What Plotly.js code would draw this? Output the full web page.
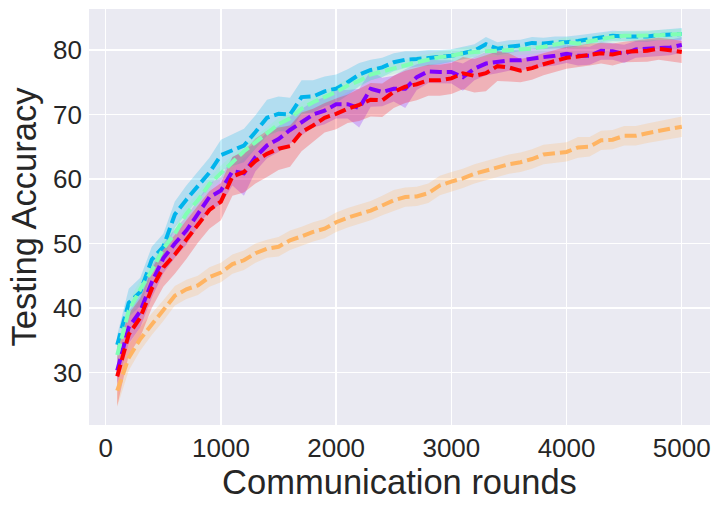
<!DOCTYPE html>
<html>
<head>
<meta charset="utf-8">
<script src="https://cdn.plot.ly/plotly-3.0.1.min.js"></script>
<style>
  html, body { margin: 0; padding: 0; background: #ffffff; }
  #chart { width: 722px; height: 509px; }
</style>
</head>
<body>
<div id="chart"></div>
<script>
// Communication rounds (x axis)
const rounds = [
  100, 200, 300, 400, 500, 600, 700, 800, 900, 1000,
  1100, 1200, 1300, 1400, 1500, 1600, 1700, 1800, 1900, 2000,
  2100, 2200, 2300, 2400, 2500, 2600, 2700, 2800, 2900, 3000,
  3100, 3200, 3300, 3400, 3500, 3600, 3700, 3800, 3900, 4000,
  4100, 4200, 4300, 4400, 4500, 4600, 4700, 4800, 4900, 5000
];

// Mean testing accuracy per run (colours follow the rainbow map)
const accPurple = [
  30.3, 37.0, 39.5, 44.0, 47.7, 50.0, 52.0, 54.7, 57.2, 58.2,
  61.2, 60.9, 63.4, 65.2, 66.2, 67.6, 68.8, 70.0, 70.6, 71.6,
  71.6, 71.0, 74.0, 73.5, 74.0, 74.0, 75.8, 76.7, 76.6, 76.6,
  75.8, 77.1, 77.9, 78.1, 78.4, 78.4, 78.7, 78.9, 79.1, 79.4,
  79.1, 79.1, 79.9, 79.8, 79.4, 80.1, 80.2, 80.3, 80.4, 80.8
];
const accCyan = [
  34.3, 40.8, 42.5, 47.5, 49.5, 54.5, 56.8, 59.0, 61.0, 63.7,
  64.5, 65.2, 67.3, 69.5, 70.1, 70.0, 72.7, 72.8, 73.6, 74.0,
  75.0, 76.2, 76.9, 77.3, 78.1, 78.5, 78.6, 78.8, 78.9, 79.1,
  79.5, 79.9, 80.9, 80.2, 80.5, 80.7, 81.1, 81.0, 81.2, 81.2,
  81.4, 81.7, 82.0, 82.2, 82.1, 82.1, 82.1, 82.3, 82.4, 82.5
];
const accGreen = [
  32.7, 39.6, 42.9, 45.8, 49.2, 51.5, 54.6, 56.7, 59.2, 61.0,
  62.6, 64.3, 65.7, 67.0, 68.5, 69.4, 70.9, 71.9, 72.7, 73.5,
  74.5, 75.2, 76.2, 76.7, 77.2, 77.7, 78.1, 78.5, 78.9, 79.1,
  79.5, 79.7, 79.8, 79.9, 80.0, 80.0, 80.2, 80.5, 80.8, 81.2,
  81.0, 81.4, 81.7, 82.0, 82.2, 82.2, 82.2, 82.3, 82.4, 82.5
];
const accOrange = [
  27.2, 32.3, 35.2, 37.5, 39.6, 41.9, 42.9, 43.5, 44.8, 45.5,
  46.8, 47.4, 48.5, 49.2, 49.5, 50.5, 51.1, 51.8, 52.3, 53.3,
  54.0, 54.6, 55.1, 55.9, 56.7, 57.2, 57.3, 57.8, 59.0, 59.6,
  60.1, 60.8, 61.3, 61.8, 62.3, 62.6, 63.1, 63.8, 64.0, 64.2,
  64.9, 65.0, 66.0, 66.1, 66.7, 66.7, 67.1, 67.5, 67.8, 68.1
];
const accRed = [
  29.4, 35.9, 38.5, 43.0, 46.3, 48.3, 50.6, 53.0, 55.2, 56.5,
  60.4, 61.1, 62.8, 63.9, 64.7, 65.1, 67.3, 68.3, 69.5, 70.1,
  70.9, 71.5, 72.3, 72.2, 73.5, 74.3, 74.7, 75.3, 75.3, 75.6,
  76.4, 76.0, 76.4, 77.5, 77.3, 76.8, 77.2, 77.8, 78.3, 78.8,
  79.0, 79.3, 79.5, 79.3, 79.7, 79.8, 79.9, 80.2, 80.0, 79.7
];

// Standard deviation (shaded band = mean +/- std)
const stdPurple = [
  2.0, 2.5, 2.5, 2.4, 2.3, 2.2, 2.2, 2.1, 2.1, 2.1,
  2.2, 3.5, 2.2, 2.0, 2.0, 2.1, 2.0, 2.0, 2.1, 2.2,
  2.2, 3.0, 2.8, 2.2, 2.0, 3.0, 2.0, 1.8, 1.8, 1.8,
  2.1, 1.8, 1.8, 1.7, 1.6, 1.6, 1.5, 1.5, 1.5, 1.4,
  1.5, 1.4, 1.4, 1.3, 1.4, 1.3, 1.3, 1.2, 1.2, 1.2
];
const stdCyan = [
  1.5, 2.2, 2.2, 2.0, 2.0, 2.0, 2.2, 2.2, 2.3, 2.4,
  2.5, 2.6, 2.6, 2.8, 2.7, 2.6, 2.6, 2.5, 2.3, 2.2,
  2.0, 1.8, 1.6, 1.5, 1.4, 1.3, 1.2, 1.2, 1.1, 1.0,
  1.0, 1.0, 1.1, 1.0, 1.0, 0.9, 0.9, 0.9, 0.9, 0.9,
  0.9, 0.8, 0.8, 0.8, 0.8, 0.8, 0.8, 0.8, 0.8, 0.9
];
const stdGreen = [
  1.5, 1.5, 1.4, 1.3, 1.3, 1.2, 1.2, 1.2, 1.1, 1.1,
  1.1, 1.0, 1.0, 1.0, 1.0, 1.0, 1.0, 1.0, 1.0, 1.0,
  1.0, 1.0, 0.9, 0.9, 0.9, 0.9, 0.9, 0.9, 0.9, 0.9,
  0.9, 0.9, 0.9, 0.9, 0.9, 0.8, 0.8, 0.8, 0.8, 0.8,
  0.8, 0.8, 0.8, 0.8, 0.8, 0.8, 0.8, 0.8, 0.8, 0.8
];
const stdOrange = [
  2.5, 2.0, 1.8, 1.7, 1.6, 1.5, 1.5, 1.5, 1.5, 1.5,
  1.5, 1.5, 1.5, 1.4, 1.5, 1.5, 1.5, 1.5, 1.5, 1.5,
  1.5, 1.5, 1.5, 1.5, 1.6, 1.5, 1.5, 1.5, 1.5, 1.5,
  1.5, 1.5, 1.5, 1.5, 1.5, 1.5, 1.5, 1.5, 1.5, 1.5,
  1.6, 1.5, 1.5, 1.5, 1.5, 1.5, 1.5, 1.5, 1.6, 1.6
];
const stdRed = [
  4.6, 3.2, 3.0, 3.0, 3.0, 3.0, 3.0, 2.9, 2.9, 2.9,
  3.0, 3.2, 3.5, 3.6, 3.3, 3.2, 3.0, 2.6, 2.3, 2.4,
  2.2, 2.5, 2.6, 2.6, 2.5, 2.5, 2.5, 2.4, 2.4, 2.4,
  2.5, 2.6, 2.8, 2.3, 2.2, 1.8, 1.8, 1.7, 1.7, 1.7,
  1.7, 1.7, 1.6, 1.7, 1.6, 1.7, 1.7, 1.7, 1.7, 1.7
];

const xTicks = [0, 1000, 2000, 3000, 4000, 5000];
const yTicks = [30, 40, 50, 60, 70, 80];

/* ------------------------------------------
   Traces: shaded bands first, dashed means on top
   ------------------------------------------ */
const series = [
  { mean: accPurple, std: stdPurple, rgb: [128, 0, 255] },
  { mean: accCyan,   std: stdCyan,   rgb: [0, 180, 236] },
  { mean: accGreen,  std: stdGreen,  rgb: [128, 255, 180] },
  { mean: accOrange, std: stdOrange, rgb: [255, 180, 98] },
  { mean: accRed,    std: stdRed,    rgb: [255, 0, 0] }
];

function rgba(c, a) {
  return 'rgba(' + c[0] + ',' + c[1] + ',' + c[2] + ',' + a + ')';
}

const bands = series.map(function (s) {
  const upper = s.mean.map(function (v, i) { return v + s.std[i]; });
  const lower = s.mean.map(function (v, i) { return v - s.std[i]; });
  return {
    type: 'scatter',
    mode: 'lines',
    x: rounds.concat(rounds.slice().reverse()),
    y: upper.concat(lower.reverse()),
    fill: 'toself',
    fillcolor: rgba(s.rgb, 0.24),
    line: { width: 0 },
    hoverinfo: 'skip',
    showlegend: false
  };
});

const lines = series.map(function (s) {
  return {
    type: 'scatter',
    mode: 'lines',
    x: rounds,
    y: s.mean,
    line: { color: rgba(s.rgb, 1), width: 4, dash: '12px,5px' },
    showlegend: false
  };
});

const axisFont = { family: 'Liberation Sans, Arial, sans-serif', size: 26, color: '#262626' };
const titleFont = { family: 'Liberation Sans, Arial, sans-serif', size: 34.5, color: '#262626' };

Plotly.newPlot('chart', bands.concat(lines), {
  width: 722,
  height: 509,
  margin: { l: 89, r: 12, t: 9, b: 84 },
  paper_bgcolor: '#ffffff',
  plot_bgcolor: '#EAEAF2',
  xaxis: {
    range: [-145, 5245],
    tickvals: xTicks,
    ticks: '',
    ticklabelstandoff: 5,
    tickfont: axisFont,
    showgrid: true,
    gridcolor: '#ffffff',
    gridwidth: 1.4,
    zeroline: false,
    showline: false,
    title: { text: 'Communication rounds', font: titleFont, standoff: 6 }
  },
  yaxis: {
    range: [21.86, 86.36],
    tickvals: yTicks,
    ticks: '',
    ticklabelstandoff: 6,
    tickfont: axisFont,
    showgrid: true,
    gridcolor: '#ffffff',
    gridwidth: 1.4,
    zeroline: false,
    showline: false,
    title: { text: 'Testing Accuracy', font: titleFont, standoff: 6 }
  }
}, { displayModeBar: false, staticPlot: true });
</script>
</body>
</html>
